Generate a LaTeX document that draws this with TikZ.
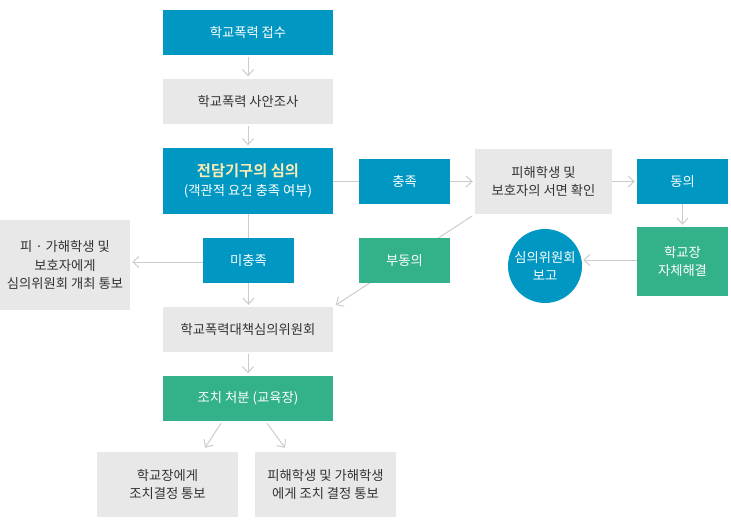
\documentclass[tikz,border=0pt]{standalone}
\usepackage{fontspec}
\setmainfont{Noto Sans CJK KR}
\newfontfamily\krbold{Noto Sans CJK KR Bold}
\usetikzlibrary{arrows.meta,calc}
\definecolor{cblue}{HTML}{0098C3}
\definecolor{cgreen}{HTML}{33B18A}
\definecolor{cgray}{HTML}{E8E8E8}
\definecolor{ctext}{HTML}{333333}
\definecolor{cline}{HTML}{CCCCCC}
\definecolor{ctitle}{HTML}{FDEBB4}
\tikzset{
  base/.style={inner sep=0pt, align=center, font=\fontsize{13.3}{18.5}\selectfont},
  bluebox/.style={base, fill=cblue, text=white},
  greenbox/.style={base, fill=cgreen, text=white},
  graybox/.style={base, fill=cgray, text=ctext},
  conn/.style={draw=cline, line width=1pt},
  arr/.style={conn, -{Straight Barb[length=6pt,width=11pt,line width=1pt]}},
}
\begin{document}
\begin{tikzpicture}[x=1pt,y=-1pt]
\useasboundingbox (0,0) rectangle (731,530);
% nodes
\node[bluebox, minimum width=170pt, minimum height=45pt] (A) at (248,32.5) {학교폭력 접수};
\node[graybox, minimum width=170pt, minimum height=45pt] (B) at (248,101.5) {학교폭력 사안조사};
\node[bluebox, minimum width=170pt, minimum height=66pt] (C) at (248,181) {{\krbold\fontsize{15.3}{21}\selectfont\color{ctitle}전담기구의 심의}\\(객관적 요건 충족 여부)};
\node[bluebox, minimum width=91pt, minimum height=45pt] (D) at (404.5,181.5) {충족};
\node[graybox, minimum width=137pt, minimum height=65pt] (E) at (543.5,181.5) {피해학생 및\\보호자의 서면 확인};
\node[bluebox, minimum width=91pt, minimum height=45pt] (F) at (682.5,181.5) {동의};
\node[greenbox, minimum width=91pt, minimum height=69pt] (G) at (682.5,261.5) {학교장\\자체해결};
\node[base, circle, fill=cblue, text=white, minimum size=74pt] (H) at (545,266) {심의위원회\\보고};
\node[bluebox, minimum width=91pt, minimum height=45pt] (I) at (248.5,260.5) {미충족};
\node[graybox, minimum width=130pt, minimum height=90pt] (J) at (65,265) {피 · 가해학생 및\\보호자에게\\심의위원회 개최 통보};
\node[graybox, minimum width=170pt, minimum height=45pt] (L) at (248,329.5) {학교폭력대책심의위원회};
% diagonal behind K
\draw[arr, shorten <=3pt, shorten >=3pt] (E.south west) -- (L.north east);
\node[greenbox, minimum width=91pt, minimum height=45pt] (K) at (404.5,260.5) {부동의};
\node[greenbox, minimum width=170pt, minimum height=45pt] (M) at (248,398.5) {조치 처분 (교육장)};
\node[graybox, minimum width=141pt, minimum height=65pt] (N) at (167.5,484.5) {학교장에게\\조치결정 통보};
\node[graybox, minimum width=141pt, minimum height=65pt] (O) at (325.5,484.5) {피해학생 및 가해학생\\에게 조치 결정 통보};
% connectors
\draw[arr, shorten <=2pt, shorten >=2.5pt] (A) -- (B);
\draw[arr, shorten <=2pt, shorten >=2.5pt] (B) -- (C);
\draw[conn] (C.east |- D.west) -- (D.west);
\draw[arr, shorten >=2pt] (D) -- (E);
\draw[arr, shorten >=2pt] (E.east |- F.west) -- (F);
\draw[arr, shorten <=0pt, shorten >=2pt] (F) -- (G);
\draw[arr, shorten >=1pt] (G.west |- 0,260) -- (H.east |- 0,260);
\draw[conn] (C.south -| I.north) -- (I.north);
\draw[arr, shorten >=2pt] (I.west |- 0,262) -- (J.east |- 0,262);
\draw[arr, shorten <=0pt, shorten >=2pt] (I.south) -- (L.north -| I.south);
\draw[arr, shorten <=2pt, shorten >=2.5pt] (L) -- (M);
\draw[arr] ($(M.south)+(-27,2)$) -- ($(N.north)+(37.5,-4)$);
\draw[arr] ($(M.south)+(19,2)$) -- ($(O.north)+(-40.5,-4)$);
\end{tikzpicture}
\end{document}
